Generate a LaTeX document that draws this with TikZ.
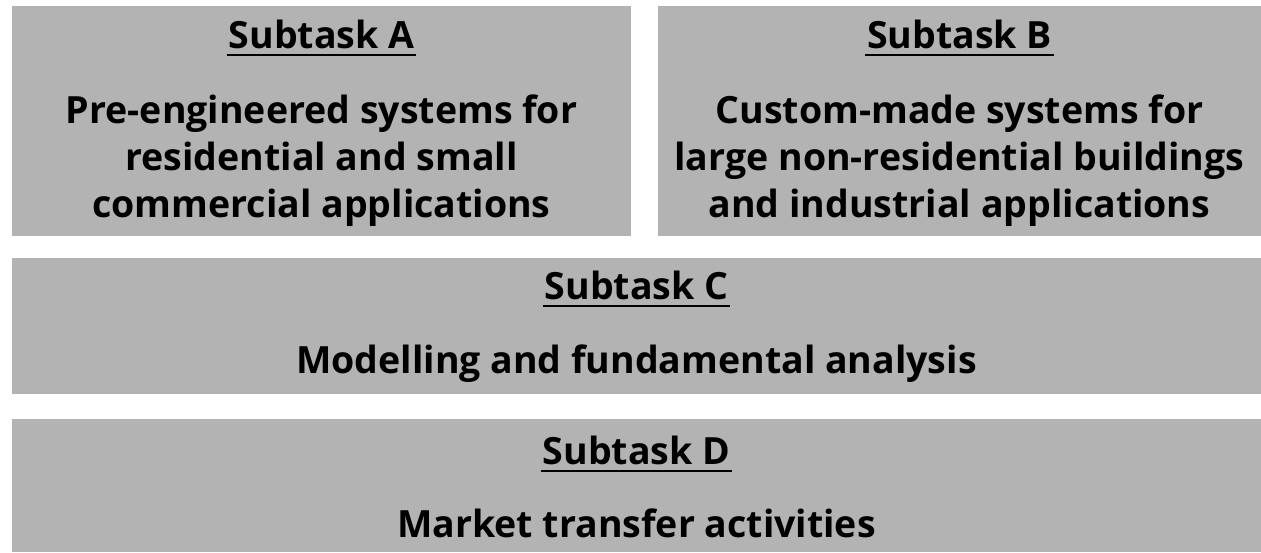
\documentclass[tikz,border=0pt]{standalone}
\usepackage{fontspec}
\setmainfont{Open Sans}[BoldFont={Open Sans Bold}]
\begin{document}
\begin{tikzpicture}[x=1pt,y=-1pt,
  panel/.style={fill=panelgray,draw=none},
  label/.style={inner sep=0pt,anchor=base,font=\fontsize{37.5}{45}\selectfont\bfseries,text=black},
  uline/.style={line width=1.8pt,black}]
\definecolor{panelgray}{RGB}{179,179,179}
\useasboundingbox (0,0) rectangle (1261,552);
% panels
\fill[panel] (12,6) rectangle (631,236);
\fill[panel] (658,6) rectangle (1261,236);
\fill[panel] (12,258) rectangle (1261,394);
\fill[panel] (12,419) rectangle (1261,552);
% Subtask A
\node[label] (hA) at (321.5,48) {Subtask A};
\node[label] (a1) at (321.5,123) {Pre-engineered systems for};
\node[label] (a2) at (321.5,170) {residential and small};
\node[label] (a3) at (321.5,217) {commercial applications};
% Subtask B
\node[label] (hB) at (959.5,48) {Subtask B};
\node[label] (b1) at (959.5,123) {Custom-made systems for};
\node[label] (b2) at (959.5,170) {large non-residential buildings};
\node[label] (b3) at (959.5,217) {and industrial applications};
% Subtask C
\node[label] (hC) at (636.5,299) {Subtask C};
\node[label] (c1) at (636.5,373) {Modelling and fundamental analysis};
% Subtask D
\node[label] (hD) at (636.5,464) {Subtask D};
\node[label] (d1) at (636.5,537) {Market transfer activities};
% heading underlines
\foreach \h in {hA,hB,hC,hD}
  \draw[uline] ([xshift=-2pt,yshift=-7pt]\h.base west) -- ([xshift=2pt,yshift=-7pt]\h.base east);
\end{tikzpicture}
\end{document}
